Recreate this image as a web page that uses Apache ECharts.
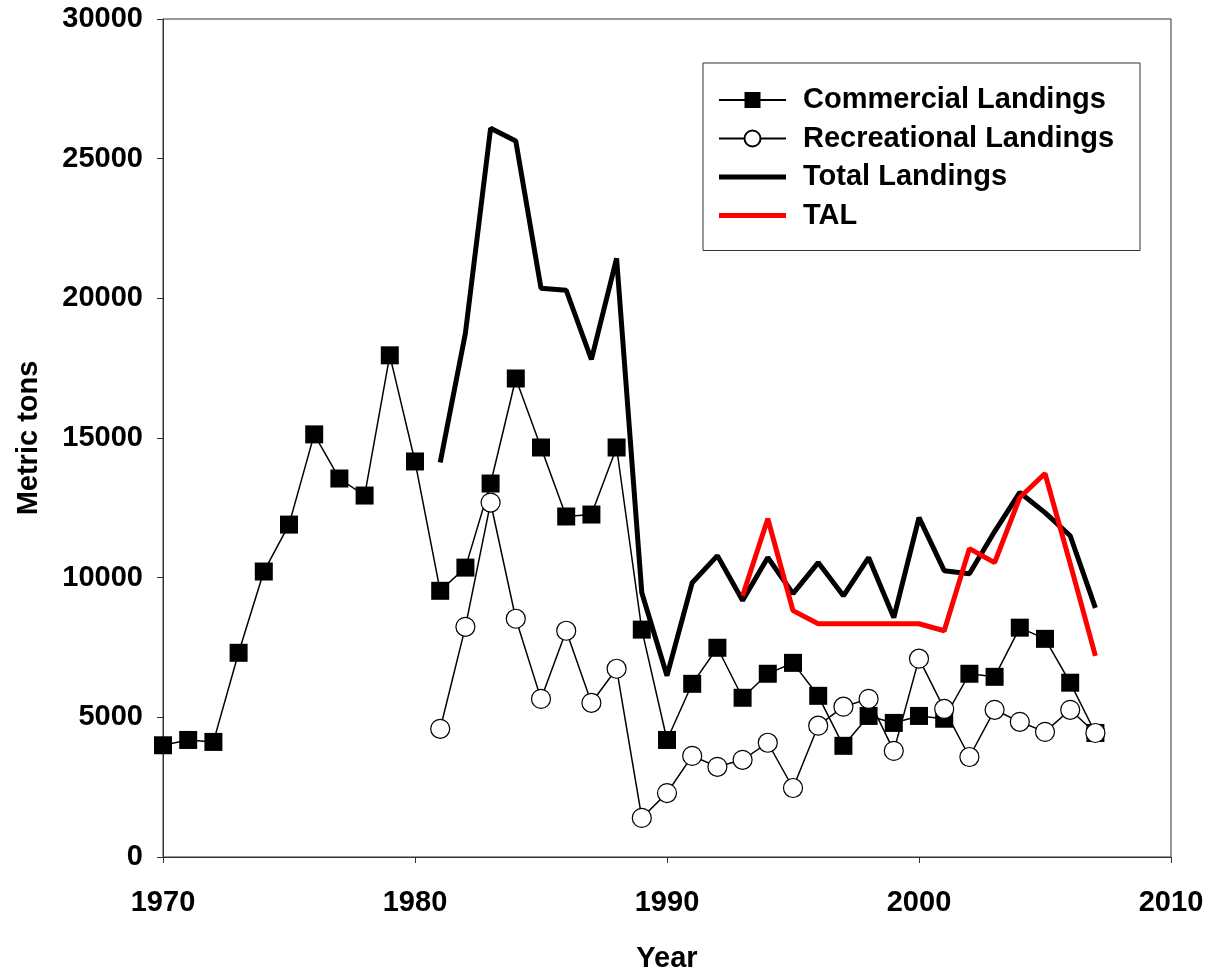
<!DOCTYPE html>
<html>
<head>
<meta charset="utf-8">
<script src="https://cdn.jsdelivr.net/npm/echarts@6/dist/echarts.min.js"></script>
<style>
  html, body { margin: 0; padding: 0; background: #fff; }
  #main { width: 1213px; height: 977px; }
</style>
</head>
<body>
<div id="main"></div>
<script>
// years and landings (metric tons)
var years = [1970, 1971, 1972, 1973, 1974, 1975, 1976, 1977, 1978, 1979,
             1980, 1981, 1982, 1983, 1984, 1985, 1986, 1987, 1988, 1989,
             1990, 1991, 1992, 1993, 1994, 1995, 1996, 1997, 1998, 1999,
             2000, 2001, 2002, 2003, 2004, 2005, 2006, 2007];
var commercial = [4000, 4190, 4120, 7310, 10220, 11900, 15130, 13550, 12940, 17960,
                  14160, 9530, 10360, 13370, 17130, 14660, 12190, 12260, 14660, 8140,
                  4190, 6200, 7490, 5700, 6560, 6950, 5770, 3980, 5050, 4800,
                  5050, 4950, 6560, 6450, 8210, 7810, 6240, 4440];
var recreational = [null, null, null, null, null, null, null, null, null, null,
                    null, 4590, 8240, 12690, 8530, 5660, 8100, 5520, 6740, 1400,
                    2290, 3620, 3230, 3480, 4090, 2470, 4700, 5380, 5660, 3800,
                    7100, 5300, 3580, 5270, 4840, 4480, 5270, 4440];
var total = [null, null, null, null, null, null, null, null, null, null,
             null, 14120, 18750, 26090, 25630, 20360, 20290, 17810, 21430, 9460,
             6490, 9820, 10790, 9180, 10720, 9430, 10540, 9350, 10720, 8570,
             12150, 10250, 10140, 11650, 13050, 12330, 11500, 8920];
var tal = [null, null, null, null, null, null, null, null, null, null,
           null, null, null, null, null, null, null, null, null, null,
           null, null, null, 9350, 12110, 8820, 8350, 8350, 8350, 8350,
           8350, 8100, 11040, 10540, 12870, 13730, 10500, 7200];
var yearTicks = [1970, 1980, 1990, 2000, 2010];

function pairs(vals) {
    var out = [];
    for (var i = 0; i < years.length; i++) {
        if (vals[i] != null) out.push([years[i], vals[i]]);
    }
    return out;
}

var font = 'Liberation Sans, Arial, sans-serif';
var thickLine = 'path://M0,0L67,0L67,5L0,5Z';
var chart = echarts.init(document.getElementById('main'));

var option = {
    animation: false,
    backgroundColor: '#fff',
    grid: {
        left: 163, right: 42, top: 19, bottom: 120,
        containLabel: false, outerBoundsMode: 'none',
        show: true, borderColor: '#333', borderWidth: 1, backgroundColor: 'transparent'
    },
    legend: {
        orient: 'vertical',
        left: 703, top: 63,
        padding: [22, 26, 20, 15],
        borderColor: '#333', borderWidth: 1,
        itemWidth: 67, itemHeight: 20, itemGap: 8.5,
        symbolKeepAspect: true,
        textStyle: { fontFamily: font, fontWeight: 'bold', fontSize: 29, color: '#000', lineHeight: 30, padding: [0, 0, 0, 12] },
        data: [
            { name: 'Commercial Landings' },
            { name: 'Recreational Landings' },
            { name: 'Total Landings', icon: thickLine, itemStyle: { color: '#000' } },
            { name: 'TAL', icon: thickLine, itemStyle: { color: '#ff0000' } }
        ]
    },
    xAxis: {
        type: 'value',
        min: 1970, max: 2010, interval: 10,
        name: 'Year', nameLocation: 'middle', nameGap: 87,
        nameTextStyle: { fontFamily: font, fontWeight: 'bold', fontSize: 29, color: '#000' },
        axisLine: { show: true, lineStyle: { color: '#333', width: 1 } },
        axisTick: { show: true, inside: false, length: 6, lineStyle: { color: '#333' } },
        axisLabel: {
            margin: 31, fontFamily: font, fontWeight: 'bold', fontSize: 29, color: '#000',
            formatter: function (v) { return yearTicks.indexOf(v) >= 0 ? String(v) : ''; }
        },
        splitLine: { show: false }
    },
    yAxis: {
        type: 'value',
        min: 0, max: 30000, interval: 5000,
        name: 'Metric tons', nameLocation: 'middle', nameGap: 120, nameRotate: 90,
        nameTextStyle: { fontFamily: font, fontWeight: 'bold', fontSize: 29, color: '#000' },
        axisLine: { show: true, lineStyle: { color: '#333', width: 1 } },
        axisTick: { show: true, inside: false, length: 6, lineStyle: { color: '#333' } },
        axisLabel: {
            margin: 20, fontFamily: font, fontWeight: 'bold', fontSize: 29, color: '#000',
            formatter: function (v) { return String(v); }
        },
        splitLine: { show: false }
    },
    series: [
        {
            name: 'Commercial Landings', type: 'line',
            data: pairs(commercial),
            symbol: 'rect', symbolSize: 18,
            itemStyle: { color: '#000' },
            lineStyle: { color: '#000', width: 1.5 },
            z: 2
        },
        {
            name: 'Recreational Landings', type: 'line',
            data: pairs(recreational),
            symbol: 'circle', symbolSize: 19,
            itemStyle: { color: '#fff', borderColor: '#000', borderWidth: 1.2 },
            lineStyle: { color: '#000', width: 1.5 },
            z: 3
        },
        {
            name: 'Total Landings', type: 'line',
            data: pairs(total),
            symbol: 'none',
            itemStyle: { color: '#000' },
            lineStyle: { color: '#000', width: 5 },
            z: 4
        },
        {
            name: 'TAL', type: 'line',
            data: pairs(tal),
            symbol: 'none',
            itemStyle: { color: '#ff0000' },
            lineStyle: { color: '#ff0000', width: 5 },
            z: 5
        }
    ]
};

chart.setOption(option);
</script>
</body>
</html>
